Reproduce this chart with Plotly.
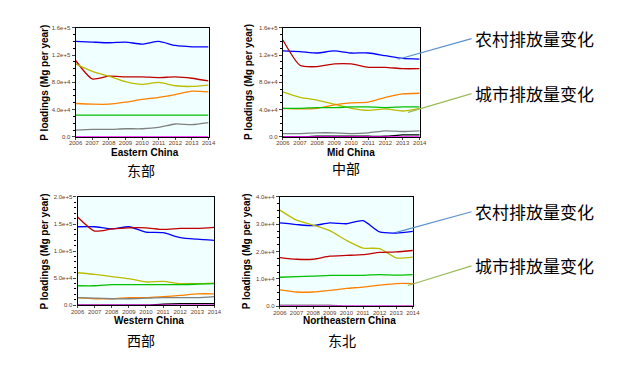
import plotly.graph_objects as go

years = [2006, 2007, 2008, 2009, 2010, 2011, 2012, 2013, 2014]

# Eastern China
east_blue = [1.40e5, 1.39e5, 1.38e5, 1.39e5, 1.36e5, 1.40e5, 1.34e5, 1.32e5, 1.32e5]
east_red = [1.12e5, 0.85e5, 0.89e5, 0.88e5, 0.88e5, 0.87e5, 0.88e5, 0.86e5, 0.82e5]
east_yellow = [1.07e5, 0.96e5, 0.89e5, 0.81e5, 0.77e5, 0.80e5, 0.75e5, 0.74e5, 0.76e5]
east_orange = [0.49e5, 0.48e5, 0.48e5, 0.51e5, 0.55e5, 0.58e5, 0.62e5, 0.67e5, 0.66e5]
east_green = [0.32e5] * 9
east_gray = [1.0e4, 1.1e4, 1.1e4, 1.2e4, 1.2e4, 1.4e4, 1.9e4, 1.8e4, 2.1e4]
east_magenta = [0] * 9

# Mid China
mid_blue = [1.26e5, 1.25e5, 1.23e5, 1.26e5, 1.23e5, 1.23e5, 1.19e5, 1.15e5, 1.14e5]
mid_red = [1.42e5, 1.05e5, 1.03e5, 1.07e5, 1.07e5, 1.02e5, 1.02e5, 1.00e5, 1.00e5]
mid_yellow = [0.66e5, 0.58e5, 0.54e5, 0.48e5, 0.42e5, 0.39e5, 0.41e5, 0.38e5, 0.42e5]
mid_orange = [0.42e5, 0.41e5, 0.42e5, 0.47e5, 0.50e5, 0.51e5, 0.58e5, 0.63e5, 0.64e5]
mid_green = [0.42e5, 0.42e5, 0.43e5, 0.43e5, 0.44e5, 0.44e5, 0.43e5, 0.44e5, 0.44e5]
mid_gray = [0.5e4, 0.5e4, 0.6e4, 0.6e4, 0.5e4, 0.6e4, 0.9e4, 0.8e4, 0.9e4]
mid_black = [0, 0, 0.1e4, 0.1e4, 0.1e4, 0.1e4, 0.1e4, 0.3e4, 0.3e4]
mid_magenta = [0] * 9

# Western China
west_blue = [1.45e5, 1.45e5, 1.41e5, 1.45e5, 1.35e5, 1.34e5, 1.25e5, 1.22e5, 1.20e5]
west_red = [1.63e5, 1.37e5, 1.41e5, 1.43e5, 1.43e5, 1.40e5, 1.42e5, 1.42e5, 1.44e5]
west_yellow = [0.60e5, 0.57e5, 0.53e5, 0.49e5, 0.43e5, 0.44e5, 0.40e5, 0.40e5, 0.41e5]
west_green = [0.36e5, 0.36e5, 0.38e5, 0.38e5, 0.38e5, 0.38e5, 0.38e5, 0.39e5, 0.40e5]
west_orange = [1.4e4, 1.2e4, 1.2e4, 1.4e4, 1.4e4, 1.6e4, 1.8e4, 2.1e4, 2.1e4]
west_gray = [1.4e4, 1.3e4, 1.2e4, 1.2e4, 1.3e4, 1.4e4, 1.4e4, 1.4e4, 1.6e4]
west_black = [0, 0, 0, 0, 0, 0.2e4, 0.3e4, 0.3e4, 0.3e4]
west_magenta = [0] * 9

# Northeastern China
ne_blue = [3.05e4, 2.99e4, 2.95e4, 3.05e4, 3.02e4, 3.13e4, 2.72e4, 2.68e4, 2.74e4]
ne_yellow = [3.52e4, 3.15e4, 2.97e4, 2.77e4, 2.41e4, 2.13e4, 2.11e4, 1.77e4, 1.80e4]
ne_red = [1.78e4, 1.72e4, 1.72e4, 1.83e4, 1.86e4, 1.89e4, 1.97e4, 1.99e4, 2.04e4]
ne_green = [1.06e4, 1.08e4, 1.10e4, 1.13e4, 1.13e4, 1.13e4, 1.16e4, 1.14e4, 1.16e4]
ne_orange = [0.60e4, 0.52e4, 0.52e4, 0.58e4, 0.65e4, 0.70e4, 0.77e4, 0.83e4, 0.83e4]
ne_gray = [0.04e4, 0.04e4, 0.04e4, 0.04e4, 0, 0, 0, 0, 0]
ne_magenta = [0] * 9

ytick_east = [0, 4e4, 8e4, 1.2e5, 1.6e5]
ytext_east = ["0.0", "4.0e+4", "8.0e+4", "1.2e+5", "1.6e+5"]
ytick_west = [0, 5e4, 1e5, 1.5e5, 2e5]
ytext_west = ["0.0", "5.0e+4", "1.0e+5", "1.5e+5", "2.0e+5"]
ytick_ne = [0, 1e4, 2e4, 3e4, 4e4]
ytext_ne = ["0.0", "1.0e+4", "2.0e+4", "3.0e+4", "4.0e+4"]

region_titles = ["Eastern China", "Mid China", "Western China", "Northeastern China"]
region_cn = ["东部", "中部", "西部", "东北"]
ytitle = "P loadings (Mg per year)"
rural_label = "农村排放量变化"
urban_label = "城市排放量变化"

C = dict(blue="#0000FF", red="#C00000", yellow="#BBBB00", orange="#FF8000",
         green="#00C000", gray="#808080", magenta="#FF00FF", black="#000000")

panels = [
    [("blue", east_blue), ("red", east_red), ("yellow", east_yellow), ("orange", east_orange),
     ("green", east_green), ("gray", east_gray), ("magenta", east_magenta)],
    [("blue", mid_blue), ("red", mid_red), ("yellow", mid_yellow), ("orange", mid_orange),
     ("green", mid_green), ("gray", mid_gray), ("black", mid_black), ("magenta", mid_magenta)],
    [("blue", west_blue), ("red", west_red), ("yellow", west_yellow), ("green", west_green),
     ("orange", west_orange), ("gray", west_gray), ("black", west_black), ("magenta", west_magenta)],
    [("blue", ne_blue), ("yellow", ne_yellow), ("red", ne_red), ("green", ne_green),
     ("orange", ne_orange), ("gray", ne_gray), ("magenta", ne_magenta)],
]

W, H = 624, 375
OFF = 8  # page body margin offset
# pixel boxes of the plot areas (left, top, right, bottom) in screenshot pixels
boxes = [(70, 25, 206, 136), (282, 25, 422, 136), (72, 197, 212, 307), (279, 197, 415, 308)]
yranges = [(0, 1.6e5), (0, 1.6e5), (0, 2.0e5), (0, 4.0e4)]
yticks = [(ytick_east, ytext_east), (ytick_east, ytext_east), (ytick_west, ytext_west), (ytick_ne, ytext_ne)]
yminor = [1e4, 1e4, 1e4, 2.5e3]


def px(x):
    return (x - OFF) / W


def py(y):
    return 1 - (y - OFF) / H


fig = go.Figure()
layout = dict(width=W, height=H, margin=dict(l=0, r=0, t=0, b=0),
              paper_bgcolor="white", plot_bgcolor="#F0FFFF", showlegend=False,
              font=dict(family="Liberation Sans, Arial, sans-serif"))
annotations = []
shapes = []
tickcol = "#6B3A20"

for i, (series, box, yr, (tv, tt), mn) in enumerate(zip(panels, boxes, yranges, yticks, yminor)):
    n = i + 1
    xa = "x" if n == 1 else f"x{n}"
    ya = "y" if n == 1 else f"y{n}"
    for cname, vals in series:
        fig.add_trace(go.Scatter(x=years, y=vals, mode="lines", xaxis=xa, yaxis=ya,
                                 line=dict(color=C[cname], width=1.3, shape="spline", smoothing=0.6),
                                 hoverinfo="skip"))
    l, t, r, b = box
    key = "" if n == 1 else str(n)
    layout["xaxis" + key] = dict(
        domain=[px(l), px(r)], anchor=ya, range=[2006, 2014],
        tickvals=years, ticktext=[str(y) for y in years],
        tickfont=dict(size=6, color=tickcol), ticks="outside", ticklen=2,
        ticklabelstandoff=-2,
        showgrid=False, zeroline=False, showline=True, linecolor="black", linewidth=1.2,
        mirror=True)
    layout["yaxis" + key] = dict(
        domain=[py(b), py(t)], anchor=xa, range=list(yr),
        tickvals=tv, ticktext=tt, tickfont=dict(size=6, color=tickcol),
        ticks="outside", ticklen=3,
        minor=dict(dtick=mn, ticks="outside", ticklen=2, tickcolor="black"),
        showgrid=False, zeroline=False, showline=True, linecolor="black", linewidth=1.2,
        mirror=True)

# axis titles and region labels
ytitle_x = [38, 247, 38, 245]
xtitle_pos = [(141, 152), (352, 152), (145, 323), (350, 323)]
cn_pos = [(137, 170), (347, 168), (137, 342), (342, 342)]
for i in range(4):
    l, t, r, b = boxes[i]
    annotations.append(dict(x=px(ytitle_x[i]), y=py((t + b) / 2), xref="paper", yref="paper",
                            text=f"<b>{ytitle}</b>", textangle=-90, showarrow=False,
                            font=dict(size=10, color="black"), xanchor="center", yanchor="middle"))
    annotations.append(dict(x=px(xtitle_pos[i][0]), y=py(xtitle_pos[i][1]), xref="paper", yref="paper",
                            text=f"<b>{region_titles[i]}</b>", showarrow=False,
                            font=dict(size=10, color="black"), xanchor="center", yanchor="middle"))
    annotations.append(dict(x=px(cn_pos[i][0]), y=py(cn_pos[i][1]), xref="paper", yref="paper",
                            text=region_cn[i], showarrow=False,
                            font=dict(size=14, color="black", family="Noto Sans CJK SC"),
                            xanchor="center", yanchor="middle"))

# callout labels with leader lines
callouts = [
    (rural_label, (400, 57), (475, 36), "#5B8FD0"),
    (urban_label, (410, 111), (475, 92), "#9BBB59"),
    (rural_label, (398, 233), (475, 212), "#5B8FD0"),
    (urban_label, (410, 287), (475, 267), "#9BBB59"),
]
for text, (x0, y0), (x1, y1), col in callouts:
    shapes.append(dict(type="line", xref="paper", yref="paper",
                       x0=px(x0), y0=py(y0), x1=px(x1), y1=py(y1),
                       line=dict(color=col, width=1.2)))
    annotations.append(dict(x=px(x1 + 1), y=py(y1), xref="paper", yref="paper",
                            text=text, showarrow=False, xanchor="left", yanchor="middle",
                            font=dict(size=17, color="black", family="Noto Sans CJK SC")))

layout["annotations"] = annotations
layout["shapes"] = shapes
fig.update_layout(**layout)
fig.write_html("out.html")
